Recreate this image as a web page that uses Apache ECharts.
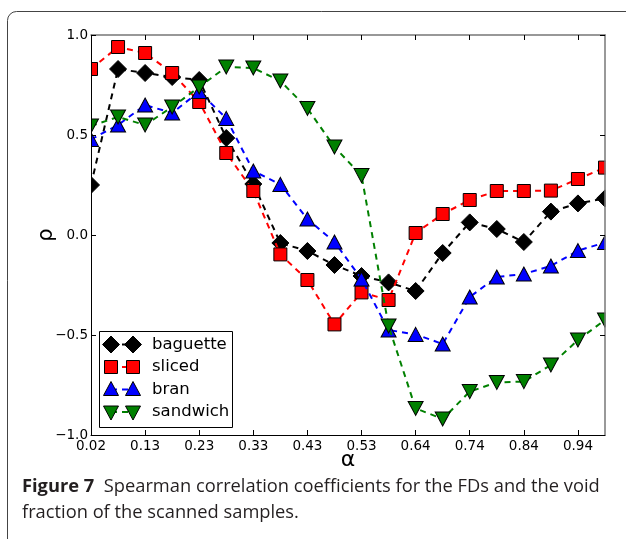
<!DOCTYPE html>
<html>
<head>
<meta charset="utf-8">
<script src="https://cdn.jsdelivr.net/npm/echarts@6/dist/echarts.min.js"></script>
<style>
html,body{margin:0;padding:0;background:#fff;}
#chart{width:626px;height:539px;}
</style>
</head>
<body>
<div id="chart"></div>
<script>
const alphaLabels = ['0.02','0.07','0.13','0.18','0.23','0.28','0.33','0.38','0.43','0.48','0.53','0.59','0.64','0.69','0.74','0.79','0.84','0.89','0.94','0.99'];
const baguette = [0.25,0.83,0.81,0.79,0.775,0.485,0.255,-0.04,-0.08,-0.15,-0.205,-0.237,-0.28,-0.09,0.063,0.03,-0.035,0.117,0.158,0.183];
const sliced   = [0.83,0.94,0.91,0.81,0.665,0.41,0.22,-0.097,-0.225,-0.447,-0.287,-0.325,0.01,0.105,0.175,0.22,0.22,0.222,0.28,0.337];
const bran     = [0.478,0.55,0.65,0.61,0.717,0.583,0.32,0.253,0.08,-0.035,-0.22,-0.475,-0.497,-0.545,-0.31,-0.21,-0.195,-0.155,-0.078,-0.038];
const sandwich = [0.545,0.59,0.55,0.64,0.74,0.84,0.835,0.77,0.633,0.44,0.297,-0.455,-0.867,-0.92,-0.783,-0.737,-0.733,-0.65,-0.525,-0.425];
const yTicks = [-1.0,-0.5,0.0,0.5,1.0];
const seriesNames = ['baguette','sliced','bran','sandwich'];

const chart = echarts.init(document.getElementById('chart'), null, {renderer:'canvas'});
const FONT = 'DejaVu Sans';
const styles = [
  {color:'#000000', symbol:'diamond', size:[17,17], rot:0},
  {color:'#ff0000', symbol:'rect', size:[13,13], rot:0},
  {color:'#0000ff', symbol:'triangle', size:[15,14], rot:0},
  {color:'#008000', symbol:'triangle', size:[15,14], rot:180}
];
const dataSets = [baguette, sliced, bran, sandwich];

const series = dataSets.map((d,k)=>({
  name: seriesNames[k],
  type:'line',
  data:d,
  xAxisIndex:0, yAxisIndex:0,
  symbol: styles[k].symbol,
  symbolSize: styles[k].size,
  symbolRotate: styles[k].rot,
  showAllSymbol:true,
  clip:false,
  z: 2 + k*0.01,
  lineStyle:{color:styles[k].color, width:2, type:[6,5]},
  itemStyle:{color:styles[k].color, borderColor:'#000', borderWidth:1, opacity:1},
  emphasis:{disabled:true},
  animation:false
}));

// legend drawn as graphic
const legX = 99.5, legY = 331.5, legW = 133, legH = 96;
const rowY = [344.5, 367, 389.5, 412];
const m1 = 111, m2 = 133;
function markerShape(k, cx, cy){
  const c = styles[k].color;
  const st = {fill:c, stroke:'#000', lineWidth:1};
  if(k===0){
    return {type:'polygon', shape:{points:[[cx,cy-8.5],[cx+8.5,cy],[cx,cy+8.5],[cx-8.5,cy]]}, style:st, z:21};
  } else if(k===1){
    return {type:'rect', shape:{x:cx-6.5,y:cy-6.5,width:13,height:13}, style:st, z:21};
  } else if(k===2){
    return {type:'polygon', shape:{points:[[cx,cy-8],[cx+7.5,cy+6],[cx-7.5,cy+6]]}, style:st, z:21};
  } else {
    return {type:'polygon', shape:{points:[[cx,cy+8],[cx+7.5,cy-6],[cx-7.5,cy-6]]}, style:st, z:21};
  }
}
const legendEls = [
  {type:'rect', shape:{x:legX,y:legY,width:legW,height:legH}, style:{fill:'#fff', stroke:'#000', lineWidth:1}, z:20}
];
seriesNames.forEach((n,k)=>{
  const y = rowY[k];
  legendEls.push({type:'line', shape:{x1:m1,y1:y,x2:m2,y2:y}, style:{stroke:styles[k].color, lineWidth:2, lineDash:[6,5]}, z:20.5});
  legendEls.push(markerShape(k,m1,y));
  legendEls.push(markerShape(k,m2,y));
  legendEls.push({type:'text', x:152, y:y, style:{text:n, font:'16.5px "DejaVu Sans"', fill:'#000', textVerticalAlign:'middle', textAlign:'left'}, z:21});
});

const option = {
  animation:false,
  backgroundColor:'#ffffff',
  grid:{left:91, top:35, width:514, height:400, containLabel:false},
  xAxis:[
    {type:'category', data:alphaLabels, boundaryGap:false, position:'bottom', z:10,
     name:'α', nameLocation:'middle', nameGap:14, nameMoveOverlap:false,
     nameTextStyle:{fontFamily:FONT, fontSize:22, color:'#000', verticalAlign:'top'},
     axisLine:{show:true, onZero:false, lineStyle:{color:'#000', width:1}},
     axisTick:{show:true, inside:true, interval:1, length:5, lineStyle:{color:'#000'}},
     axisLabel:{interval:1, fontFamily:FONT, fontSize:13.5, color:'#000', margin:4},
     splitLine:{show:false}},
    {type:'category', data:alphaLabels, boundaryGap:false, position:'top', z:10,
     axisLine:{show:true, onZero:false, lineStyle:{color:'#777', width:1.5}},
     axisTick:{show:true, inside:true, interval:1, length:5, lineStyle:{color:'#000'}},
     axisLabel:{show:false}, splitLine:{show:false}}
  ],
  yAxis:[
    {type:'value', min:-1, max:1, interval:0.5, position:'left', z:10,
     name:'ρ', nameLocation:'middle', nameGap:34, nameRotate:90, nameMoveOverlap:false,
     nameTextStyle:{fontFamily:FONT, fontSize:21, color:'#000'},
     axisLine:{show:true, onZero:false, lineStyle:{color:'#000', width:1}},
     axisTick:{show:true, inside:true, length:5, lineStyle:{color:'#000'}},
     axisLabel:{fontFamily:FONT, fontSize:13.5, color:'#000', margin:3,
       formatter:v=>{ const t = yTicks.find(x=>Math.abs(x-v)<1e-9); const s=(t===undefined?v:t).toFixed(1); return s.replace('-','\u2212'); }},
     splitLine:{show:false}},
    {type:'value', min:-1, max:1, interval:0.5, position:'right', z:10,
     axisLine:{show:true, onZero:false, lineStyle:{color:'#777', width:1.5}},
     axisTick:{show:true, inside:true, length:5, lineStyle:{color:'#000'}},
     axisLabel:{show:false}, splitLine:{show:false}}
  ],
  series: series,
  graphic:[
    {type:'rect', shape:{x:7.5,y:11.5,width:700,height:600,r:9}, style:{fill:null, stroke:'#444', lineWidth:1}, z:1},
    {type:'rect', shape:{x:76,y:25,width:15,height:420}, style:{fill:'#fff'}, z:5},
    {type:'rect', shape:{x:605.5,y:25,width:21,height:420}, style:{fill:'#fff'}, z:5},
    ...legendEls,
    {type:'text', x:22, y:474, z:30,
     style:{rich:{b:{fontFamily:'Open Sans', fontWeight:'bold', fontSize:18.3, fill:'#231f20', lineHeight:26}, n:{fontFamily:'Open Sans', fontSize:18.3, fill:'#231f20', lineHeight:26}},
       text:'{b|Figure 7}{n|  Spearman correlation coefficients for the FDs and the void}\n{n|fraction of the scanned samples.}',
       fill:'#231f20', font:'18.3px "Open Sans"', textVerticalAlign:'top'}}
  ]
};
chart.setOption(option);
</script>
</body>
</html>
